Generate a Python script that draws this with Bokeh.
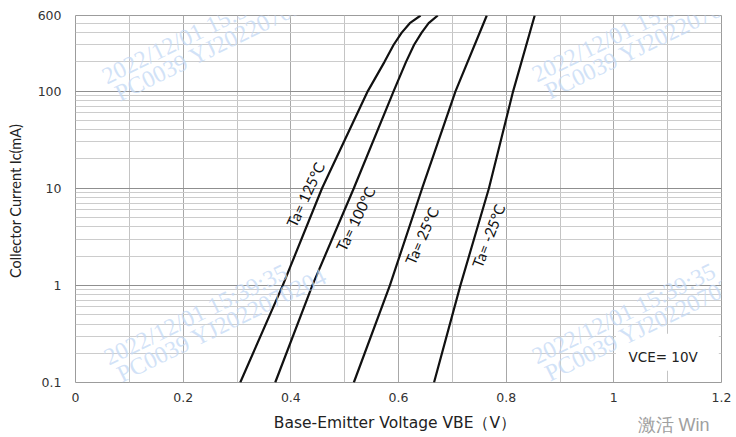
from bokeh.plotting import figure
from bokeh.models import Range1d, FixedTicker, Label, BoxAnnotation, LinearAxis
from bokeh.embed import file_html
from bokeh.resources import INLINE

# ---------------- data ----------------
vbe_125 = [0.306, 0.385, 0.458, 0.543, 0.574, 0.591, 0.606, 0.621, 0.641]
ic_125 = [0.1, 1, 10, 100, 200, 300, 400, 500, 600]
vbe_100 = [0.371, 0.440, 0.517, 0.591, 0.614, 0.629, 0.643, 0.656, 0.673]
ic_100 = [0.1, 1, 10, 100, 200, 300, 400, 500, 600]
vbe_25 = [0.517, 0.584, 0.644, 0.706, 0.764]
ic_25 = [0.1, 1, 10, 100, 600]
vbe_m25 = [0.666, 0.715, 0.768, 0.813, 0.853]
ic_m25 = [0.1, 1, 10, 100, 600]

curve_labels = ["Ta= 125°C", "Ta= 100°C", "Ta= 25°C", "Ta= -25°C"]

x_ticks = [0, 0.2, 0.4, 0.6, 0.8, 1.0, 1.2]
x_tick_labels = ["0", "0.2", "0.4", "0.6", "0.8", "1", "1.2"]
x_minor = [0.1, 0.3, 0.5, 0.7, 0.9, 1.1]
y_ticks = [0.1, 1, 10, 100, 600]
y_tick_labels = ["0.1", "1", "10", "100", "600"]
y_minor = [0.2, 0.3, 0.4, 0.5, 0.6, 0.7, 0.8, 0.9,
           2, 3, 4, 5, 6, 7, 8, 9,
           20, 30, 40, 50, 60, 70, 80, 90,
           200, 300, 400, 500]

x_title = "Base-Emitter Voltage  VBE（V）"
y_title = "Collector Current  Ic(mA)"
vce_text = "VCE= 10V"
watermark_1 = "2022/12/01  15:39:35"
watermark_2 = "PC0039  YJ2022070204"
os_mark = "激活 Win"

# ---------------- figure ----------------
W, H = 736, 437
FL, FR, FT, FB = 75, 15, 15, 55
FRAME_BOTTOM = H - FB

p = figure(width=W, height=H, x_range=Range1d(0, 1.2), y_range=Range1d(0.1, 600),
           y_axis_type="log", output_backend="svg", toolbar_location=None,
           min_border_left=FL, min_border_right=FR, min_border_top=FT, min_border_bottom=FB)
p.background_fill_color = "white"
p.border_fill_color = "white"
p.outline_line_color = "#9c9c9c"
p.outline_line_width = 1

xt = FixedTicker(ticks=x_ticks, minor_ticks=x_minor)
yt = FixedTicker(ticks=y_ticks, minor_ticks=y_minor)
xax = p.xaxis[0]
yax = p.yaxis[0]
xax.ticker = xt
yax.ticker = yt
p.xgrid.ticker = xt
p.ygrid.ticker = yt
xax.major_label_overrides = dict(zip(x_ticks, x_tick_labels))
yax.major_label_overrides = dict(zip(y_ticks, y_tick_labels))


def plain_axis(ax):
    ax.axis_line_color = None
    ax.major_tick_line_color = None
    ax.minor_tick_line_color = None
    ax.major_tick_out = 0
    ax.major_tick_in = 0
    ax.minor_tick_out = 0
    ax.minor_tick_in = 0


for ax in (xax, yax):
    plain_axis(ax)
    ax.major_label_text_font = "DejaVu Sans"
    ax.major_label_text_font_size = "12.5px"
    ax.major_label_text_color = "#333333"
xax.major_label_standoff = 10
yax.major_label_standoff = 14

yax.axis_label = y_title
yax.axis_label_text_font = "Lato"
yax.axis_label_text_font_size = "14.5px"
yax.axis_label_text_font_style = "normal"
yax.axis_label_text_color = "#222222"
yax.axis_label_standoff = 11

p.xgrid.grid_line_color = "#a8a8a8"
p.xgrid.minor_grid_line_color = "#c4c4c4"
p.ygrid.grid_line_color = "#8f8f8f"
p.ygrid.minor_grid_line_color = "#cccccc"

# x-axis title row: title centred a little left of the frame centre, OS mark at right
X_TITLE_AT = 0.598
OS_MARK_AT = 1.111
title_axis = LinearAxis(ticker=FixedTicker(ticks=[X_TITLE_AT], minor_ticks=[]),
                        major_label_overrides={X_TITLE_AT: x_title})
plain_axis(title_axis)
title_axis.major_label_text_font = "DejaVu Sans"
title_axis.major_label_text_font_size = "15.5px"
title_axis.major_label_text_color = "#222222"
title_axis.major_label_standoff = 9
p.add_layout(title_axis, "below")

os_axis = LinearAxis(ticker=FixedTicker(ticks=[OS_MARK_AT], minor_ticks=[]),
                     major_label_overrides={OS_MARK_AT: os_mark})
plain_axis(os_axis)
os_axis.major_label_text_font = "Liberation Sans"
os_axis.major_label_text_font_size = "18px"
os_axis.major_label_text_color = "#a0a0a0"
os_axis.major_label_standoff = -20
p.add_layout(os_axis, "below")

# ---------------- curves ----------------
for xs, ys in [(vbe_125, ic_125), (vbe_100, ic_100), (vbe_25, ic_25), (vbe_m25, ic_m25)]:
    p.line(xs, ys, line_color="#111111", line_width=2.2)

# curve labels (data coords)
label_pos = [(0.427, 8.6, 65), (0.520, 4.85, 64), (0.643, 3.24, 66), (0.767, 3.24, 69)]
for txt, (lx, ly, ang) in zip(curve_labels, label_pos):
    p.add_layout(Label(x=lx, y=ly, text=txt, angle=ang, angle_units="deg",
                       text_align="center", text_baseline="middle",
                       text_font="Lato", text_font_size="15px", text_color="#111111"))

# VCE box
p.add_layout(BoxAnnotation(left=1.004, right=1.195, bottom=0.132, top=0.317,
                           fill_color="white", fill_alpha=1.0, line_color=None))


def lab(cx, cy, text, **kw):
    return Label(x=cx - FL, y=FRAME_BOTTOM - cy, x_units="screen", y_units="screen",
                 text=text, **kw)


p.add_layout(lab(628, 356, vce_text, text_font="DejaVu Sans", text_font_size="13.5px",
                 text_color="#222222", text_baseline="alphabetic"))

# watermarks
for (cx, cy) in [(103, 77), (533, 75), (105, 358), (533, 357)]:
    p.add_layout(lab(cx, cy, watermark_1, angle=26, angle_units="deg",
                     text_font="Liberation Serif", text_font_size="24px",
                     text_color="#c4d9f5", text_alpha=0.75, text_baseline="alphabetic"))
    p.add_layout(lab(cx + 13, cy + 17, watermark_2, angle=26, angle_units="deg",
                     text_font="Liberation Serif", text_font_size="24px",
                     text_color="#c4d9f5", text_alpha=0.75, text_baseline="alphabetic"))

open("out.html", "w").write(file_html(p, INLINE))
